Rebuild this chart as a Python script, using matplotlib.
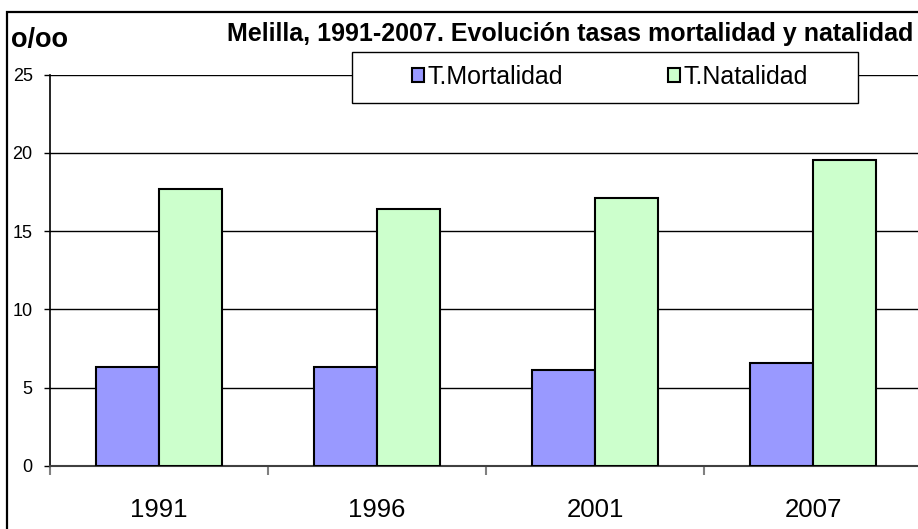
import numpy as np
import matplotlib.pyplot as plt
from matplotlib.patches import Rectangle

# Datos (tasas por mil)
anios = ['1991', '1996', '2001', '2007']
mortalidad = [6.3, 6.3, 6.1, 6.6]
natalidad = [17.7, 16.4, 17.1, 19.55]

plt.rcParams['font.family'] = ['Liberation Sans', 'DejaVu Sans']

fig = plt.figure(figsize=(9.18, 5.29), dpi=100)
ax = fig.add_axes([50/918, 63/529, 872/918, 391.5/529])

x = np.arange(len(anios))
ancho = 0.289
ax.bar(x - ancho/2, mortalidad, ancho, color='#9999FF', edgecolor='black',
       linewidth=1.5, label='T.Mortalidad', zorder=3)
ax.bar(x + ancho/2, natalidad, ancho, color='#CCFFCC', edgecolor='black',
       linewidth=1.5, label='T.Natalidad', zorder=3)

ax.set_xlim(-0.5, len(anios) - 0.5)
ax.set_ylim(0, 25)
ax.set_yticks(range(0, 26, 5))
ax.yaxis.grid(True, color='black', linewidth=1)
ax.set_axisbelow(True)

ax.set_xticks(x)
ax.set_xticklabels(anios, fontsize=18.5)
ax.tick_params(axis='x', length=0, pad=23)
ax.set_xticks(np.arange(-0.5, len(anios)), minor=True)
ax.tick_params(axis='x', which='minor', length=6.5, color='#808080', width=1.5)
ax.tick_params(axis='y', length=4.5, labelsize=13, pad=8, width=1)

for s in ['top', 'right']:
    ax.spines[s].set_visible(False)
ax.spines['left'].set_linewidth(1.2)
ax.spines['bottom'].set_color('#404040')
ax.spines['bottom'].set_linewidth(1.5)

fig.text(11/918, 1 - 40/529, 'o/oo', fontsize=19.5, fontweight='bold', va='center')
fig.text(913/918, 1 - 34/529, 'Melilla, 1991-2007. Evolución tasas mortalidad y natalidad',
         fontsize=18, fontweight='bold', ha='right', va='center')

# Caja de la leyenda (tapa la linea de 25)
fig.patches.append(Rectangle((352/918, 1 - 103/529), 506/918, 51/529, transform=fig.transFigure,
                             facecolor='white', edgecolor='black', linewidth=1, zorder=2))
handles, labels = ax.get_legend_handles_labels()
leg = fig.legend(handles, labels, loc='center', bbox_to_anchor=(610/918, 1 - 77/529),
                 ncol=2, fontsize=18, frameon=False, handlelength=0.48, handleheight=0.48,
                 handletextpad=0.15, columnspacing=4.2, borderpad=0)
leg.set_zorder(5)

fig.patches.append(Rectangle((7/918, -0.1), 1.2, 1 - 12/529 + 0.1, transform=fig.transFigure,
                             fill=False, edgecolor='black', linewidth=1.6, zorder=6))

fig.savefig('out.png', dpi=100)
